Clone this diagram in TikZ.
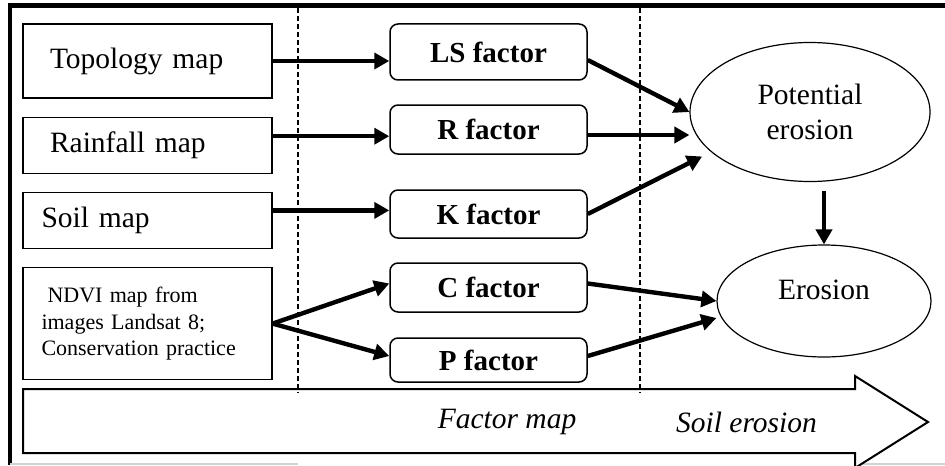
\documentclass[tikz,border=0pt]{standalone}
\usepackage{fontspec}
\setmainfont{Liberation Serif}
\usetikzlibrary{arrows.meta, positioning, shapes.geometric}

\begin{document}
\begin{tikzpicture}[
  x=0.5pt, y=-0.5pt,
  font=\fontsize{14.75}{17.5}\selectfont,
  mapbox/.style={rectangle, draw, line width=0.6pt,
                 minimum width=124.5pt, minimum height=28pt,
                 text width=106pt, align=left, inner xsep=9.25pt},
  factor/.style={rectangle, draw, rounded corners=4pt, line width=0.75pt,
                 minimum width=98.5pt, minimum height=24.5pt,
                 font=\fontsize{14.5}{17}\selectfont\bfseries},
  result/.style={ellipse, draw, line width=0.6pt, align=center},
  arrow/.style={-{Triangle[length=7.5pt,width=8pt]}, line width=2.2pt},
  divider/.style={dash pattern=on 2.5pt off 1.5pt, line width=0.6pt},
  phase/.style={font=\fontsize{14.75}{17.5}\selectfont\itshape}
]
\useasboundingbox (0,0) rectangle (945,465);

%% --- Outer frame (cut at right and bottom) ---
\draw[line width=2.3pt] (10,465) -- (10,5.5) -- (945,5.5);
\draw[gray!35, line width=1pt] (10,463.5) -- (298,463.5);
\draw[gray!35, line width=1pt] (863,463.5) -- (945,463.5);

%% --- Stage arrow (bottom) ---
\draw[line width=1pt, fill=white] (23,389) -- (855,389) -- (855,376)
    -- (928,422) -- (855,468) -- (855,453) -- (23,453) -- cycle;
\node[phase] (factormap) at (507,422) {Factor map};
\node[phase] (soilero) at (746.5,422) {Soil erosion};

%% --- Dashed dividers ---
\draw[divider] (298,8) -- (298,393);
\draw[divider] (640,8) -- (640,393);

%% --- Input maps (left) ---
\node[mapbox, minimum height=37pt] (topo) at (147.5,61)
    {\hspace*{4.25pt}Topology map};
\node[mapbox, below=9pt of topo] (rain) {\hspace*{4.25pt}Rainfall map};
\node[mapbox, below=9pt of rain] (soil) {Soil map};
\node[mapbox, minimum height=56pt, below=9pt of soil,
      font=\fontsize{11}{13.25}\selectfont] (ndvi)
    {\hspace*{3pt}NDVI map from\\images Landsat 8;\\Conservation practice};

%% --- Factors (center) ---
\node[factor, minimum height=28pt] (ls) at (488.5,52) {LS factor};
\node[factor] (rf) at (488.5,129.5) {R factor};
\node[factor, minimum height=24pt] (kf) at (488.5,214) {K factor};
\node[factor] (cf) at (488.5,287.5) {C factor};
\node[factor, minimum height=22pt] (pf) at (488.5,360) {P factor};

%% --- Results (right) ---
\node[result, minimum width=120pt, minimum height=69.5pt] (pot)
    at (810,112) {Potential\\erosion};
\node[result, minimum width=107pt, minimum height=56pt] (ero)
    at (824,301) {\raisebox{11pt}{Erosion}};

%% --- Maps -> factors ---
\draw[arrow] (topo.east) -- (topo.east -| ls.west);
\draw[arrow] ([yshift=4.5pt]rain.east) -- ([yshift=4.5pt]rain.east -| rf.west);
\draw[arrow] ([yshift=5pt]soil.east) -- ([yshift=5pt]soil.east -| kf.west);
\draw[arrow] (ndvi.east) -- ([yshift=2pt]cf.west);
\draw[arrow] (ndvi.east) -- ([yshift=2pt]pf.west);

%% --- Factors -> results ---
\draw[arrow] ([yshift=-4pt]ls.east) -- (pot.west);
\draw[arrow] ([yshift=-2.75pt]rf.east) -- ([yshift=-2.75pt]rf.east -| pot.west);
\draw[arrow, shorten >=5pt] (kf.east) -- (pot.202);
\draw[arrow] ([yshift=2pt]cf.east) -- (ero.west);
\draw[arrow] ([yshift=2pt]pf.east) -- ([yshift=-8.5pt]ero.west);

%% --- Potential erosion -> Erosion ---
\draw[arrow, shorten <=4.5pt] (ero.north |- pot.south) -- (ero.north);

\end{tikzpicture}
\end{document}
